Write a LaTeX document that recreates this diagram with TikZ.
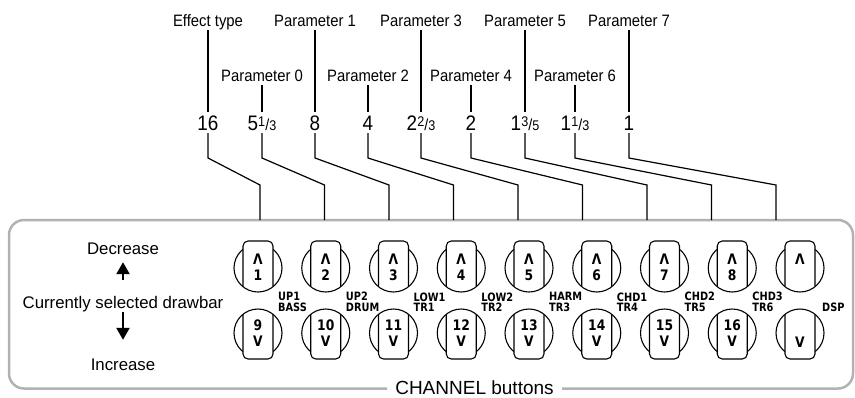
\documentclass[tikz,border=0pt]{standalone}
\usepackage{fontspec}
\setmainfont{Liberation Sans}
\newfontfamily\condfont[FakeStretch=0.9]{Liberation Sans}
\newfontfamily\dinfont[FakeStretch=0.85]{DejaVu Sans}
\usetikzlibrary{arrows.meta}
\definecolor{framegray}{RGB}{178,178,178}
\newcommand\myfrac[3]{#1{\fontsize{14}{14}\selectfont\raisebox{4pt}{#2}}{\fontsize{16}{16}\selectfont/}{\fontsize{14}{14}\selectfont #3}}
\begin{document}
\begin{tikzpicture}[x=1pt,y=-1pt,
  lab/.style={font=\condfont\fontsize{16.5}{16.5}\selectfont, anchor=base, inner xsep=0pt, inner ysep=2pt, text height=12pt, text depth=2pt},
  num/.style={font=\condfont\fontsize{21}{21}\selectfont, anchor=base, inner xsep=0pt, inner ysep=3pt, text height=15pt, text depth=0pt},
  conn/.style={line width=1.2pt, black},
  frame/.style={line width=2.5pt, draw=framegray, rounded corners=15pt},
  side/.style={font=\fontsize{16.8}{17}\selectfont, anchor=base, inner sep=0pt, text height=12.5pt, text depth=4pt},
  arr/.style={line width=2.4pt, -{Triangle[width=13pt,length=12pt]}},
  btn/.style={line width=1.1pt, black},
  btxt/.style={font=\dinfont\bfseries\fontsize{14.5}{14.5}\selectfont, inner sep=0pt},
  blab/.style={font=\dinfont\bfseries\fontsize{11.5}{10.5}\selectfont, align=left, anchor=west, inner sep=0pt},
  chan/.style={font=\fontsize{19}{19}\selectfont, anchor=base, inner sep=0pt}
]
\useasboundingbox (0,0) rectangle (855,397);
\path (0,158) coordinate (ya) (0,185) coordinate (yb);

% frame
\draw[frame] (562,388.5) -- (853,388.5) -- (853,220) -- (9,220) -- (9,388.5) -- (387,388.5);
\node[chan] (chan) at (474.5,394.5) {CHANNEL buttons};

% labels, numbers and connectors
\foreach \i/\x/\lt/\nt/\yb in {
  0/208/Effect type/16/26,
  1/262/Parameter 0/\myfrac{5}{1}{3}/81,
  2/315/Parameter 1/8/26,
  3/368/Parameter 2/4/81,
  4/421/Parameter 3/\myfrac{2}{2}{3}/26,
  5/471/Parameter 4/2/81,
  6/525/Parameter 5/\myfrac{1}{3}{5}/26,
  7/575/Parameter 6/\myfrac{1}{1}{3}/81,
  8/629/Parameter 7/1/26}{
  \node[lab] (L\i) at (\x,\yb) {\lt};
  \node[num] (N\i) at (\x,130) {\nt};
  \coordinate (C\i) at (260+64.5*\i,220);
  \draw[conn] (L\i.south) -- (N\i.north);
  \draw[conn] (N\i.south) -- (N\i.south |- ya) -- (C\i |- yb) -- (C\i);
}

% left side
\node[side] (dec) at (123,254) {Decrease};
\node[side] (cur) at (123,308) {Currently selected drawbar};
\node[side] (inc) at (123,370) {Increase};
\draw[arr] ([yshift=15pt]cur.north) -- ([yshift=-4pt]dec.south);
\draw[arr] (cur.south) -- ([yshift=17.5pt]inc.north);

% buttons
\foreach \j in {0,...,8}{
  \pgfmathsetmacro{\bx}{258+67.75*\j}
  % upper button
  \draw[btn] (\bx,268) circle[radius=24];
  \fill[white, rounded corners=5pt] (\bx-15,268) -- (\bx-15,241) -- (\bx+15,241) -- (\bx+15,268) -- cycle;
  \draw[btn, rounded corners=5pt] (\bx-15,286.7) -- (\bx-15,241) -- (\bx+15,241) -- (\bx+15,286.7);
  % lower button
  \draw[btn] (\bx,333) circle[radius=24];
  \fill[white, rounded corners=5pt] (\bx-15,333) -- (\bx-15,359) -- (\bx+15,359) -- (\bx+15,333) -- cycle;
  \draw[btn, rounded corners=5pt] (\bx-15,314.3) -- (\bx-15,359) -- (\bx+15,359) -- (\bx+15,314.3);
}
\foreach \j/\u/\d/\la in {0/1/9/UP1\\BASS, 1/2/10/UP2\\DRUM, 2/3/11/LOW1\\TR1, 3/4/12/LOW2\\TR2,
  4/5/13/HARM\\TR3, 5/6/14/CHD1\\TR4, 6/7/15/CHD2\\TR5, 7/8/16/CHD3\\TR6}{
  \pgfmathsetmacro{\bx}{258+67.75*\j}
  \node[btxt] (ua\j) at (\bx,259) {Λ};
  \node[btxt] (un\j) at (\bx,275.5) {\u};
  \node[btxt] (ln\j) at (\bx,325.5) {\d};
  \node[btxt] (lv\j) at (\bx,341) {V};
  \node[blab] (bl\j) at (\bx+20,302) {\la};
}
\node[btxt] (ua8) at (800,259) {Λ};
\node[btxt] (lv8) at (800,342) {V};
\node[blab] (bl8) at (822,307.5) {DSP};
\end{tikzpicture}
\end{document}
